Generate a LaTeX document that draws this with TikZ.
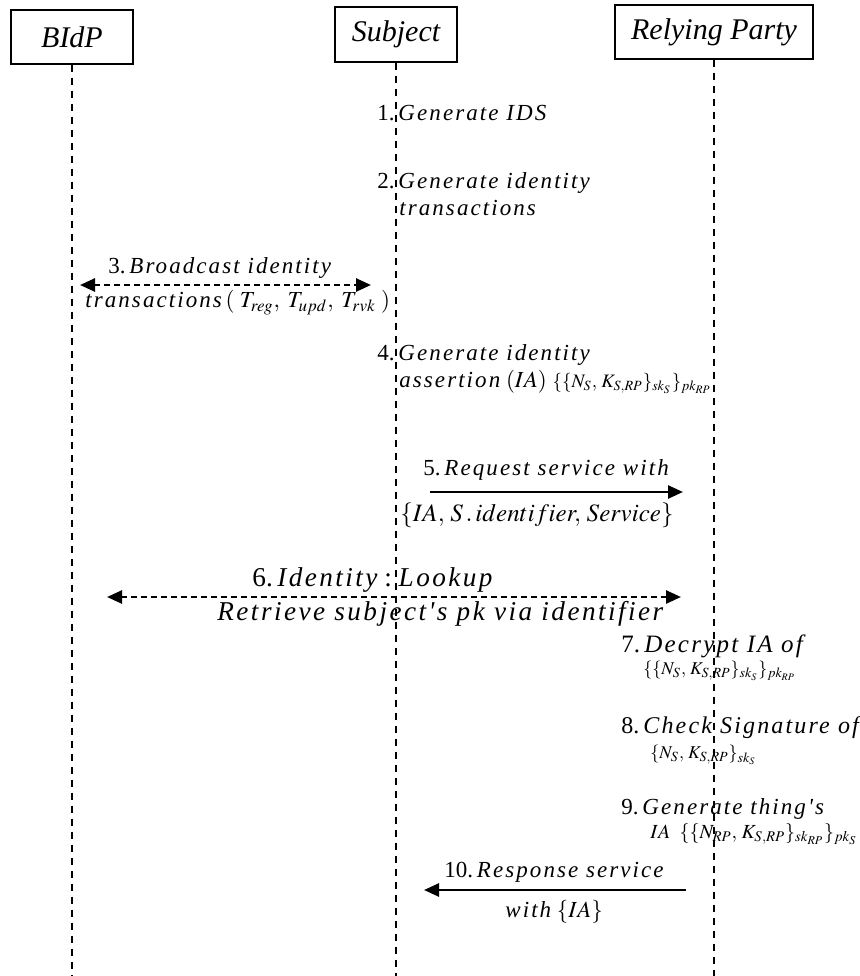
\documentclass[tikz,border=0pt]{standalone}
\usepackage{mathptmx}
\usepackage{fontspec}
\setmainfont{Liberation Serif}
\newfontface\spit{Liberation Serif Italic}[LetterSpace=9]
\usetikzlibrary{arrows.meta}

% message text: upright step number, spaced italic words
\newcommand{\stxt}[1]{{\spit #1}}

\tikzset{
  actor/.style={draw, line width=0.7pt, inner sep=0pt,
    font=\fontsize{15}{17}\selectfont\itshape},
  lifeline/.style={line width=0.6pt, dash pattern=on 3.5pt off 3pt},
  lbl/.style={anchor=west, inner sep=0pt, font=\fontsize{11.5}{13}\selectfont},
  biglbl/.style={lbl, font=\fontsize{13.6}{15}\selectfont},
  fml/.style={anchor=west, inner sep=0pt, font=\fontsize{9}{11}\selectfont},
  msg/.style={line width=1.3pt, -{Triangle[length=7.5pt,width=6.5pt]}},
  bimsg/.style={line width=1.3pt, dash pattern=on 3pt off 2pt,
    {Triangle[length=7.5pt,width=6.5pt]}-{Triangle[length=7.5pt,width=6.5pt]}},
}

\begin{document}
\begin{tikzpicture}[x=0.5pt,y=-0.5pt]
\useasboundingbox (0,0) rectangle (859,976);

% participants
\node[actor, minimum width=61pt, minimum height=27pt] (bidp) at (72,37) {BIdP};
\node[actor, minimum width=61pt, minimum height=27.5pt] (subj) at (396,34.5) {Subject};
\node[actor, minimum width=99pt, minimum height=27pt] (rp) at (714,32) {Relying Party};

% lifelines
\coordinate (bidpEnd) at (72,976);
\coordinate (subjEnd) at (396,976);
\coordinate (rpEnd) at (714,976);
\draw[lifeline] (bidp.south) -- (bidpEnd);
\draw[lifeline] (subj.south) -- (subjEnd);
\draw[lifeline] (rp.south) -- (rpEnd);

% 1, 2: subject-local steps
\node[lbl] (s1) at (377,113) {1.\,\stxt{Generate IDS}};
\node[lbl] (s2a) at (377,183) {2.\,\stxt{Generate identity}};
\node[lbl] (s2b) at (399,208) {\stxt{transactions}};

% 3: broadcast between subject and BIdP
\node[lbl] (s3a) at (108,268) {3.\,\stxt{Broadcast identity}};
\coordinate (m3l) at (80,285);
\coordinate (m3r) at (371,285);
\draw[bimsg] (m3l) -- (m3r);
\node[lbl] (s3b) at (85,303) {\stxt{transactions}\,$(\;T_{reg},\;T_{upd},\;T_{rvk}\;)$};

% 4: identity assertion
\node[lbl] (s4a) at (377,355) {4.\,\stxt{Generate identity}};
\node[lbl] (s4b) at (399,382) {\stxt{assertion} $(IA)$\ \fontsize{9.5}{11}\selectfont$\{\{N_S,\, K_{S,RP}\}_{sk_S}\}_{pk_{RP}}$};

% 5: request to relying party
\node[lbl] (s5a) at (423,470) {5.\,\stxt{Request service with}};
\coordinate (m5l) at (430,492);
\coordinate (m5r) at (683,492);
\draw[msg] (m5l) -- (m5r);
\node[lbl, font=\fontsize{12.5}{14}\selectfont] (s5b) at (400,515) {$\{IA,\, S\,.\,identifier,\, Service\}$};

% 6: lookup between relying party and BIdP
\node[biglbl] (s6a) at (252,580) {6.\,\stxt{Identity}\ :\ \stxt{Lookup}};
\coordinate (m6l) at (107,597);
\coordinate (m6r) at (681,597);
\draw[bimsg] (m6l) -- (m6r);
\node[biglbl] (s6b) at (217,614) {\stxt{Retrieve subject's pk via identifier}};

% 7-9: relying-party-local steps
\node[lbl, font=\fontsize{12.5}{14}\selectfont] (s7a) at (621,646) {7.\,\stxt{Decrypt IA of}};
\node[fml] (s7b) at (643,671) {$\{\{N_S,\, K_{S,RP}\}_{sk_S}\}_{pk_{RP}}$};
\node[lbl, font=\fontsize{12}{14}\selectfont] (s8a) at (621,728) {8.\,\stxt{Check Signature of}};
\node[fml] (s8b) at (650,755) {$\{N_S,\, K_{S,RP}\}_{sk_S}$};
\node[lbl] (s9a) at (621,809) {9.\,\stxt{Generate thing's}};
\node[fml, font=\fontsize{10}{11}\selectfont] (s9b) at (650,834) {$IA\;\ \{\{N_{RP},\, K_{S,RP}\}_{sk_{RP}}\}_{pk_S}$};

% 10: response to subject
\node[lbl] (s10a) at (444,872) {10.\,\stxt{Response service}};
\coordinate (m10r) at (686,890);
\coordinate (m10l) at (424,890);
\draw[msg] (m10r) -- (m10l);
\node[lbl] (s10b) at (505,912) {\stxt{with} $\{IA\}$};
\end{tikzpicture}
\end{document}
